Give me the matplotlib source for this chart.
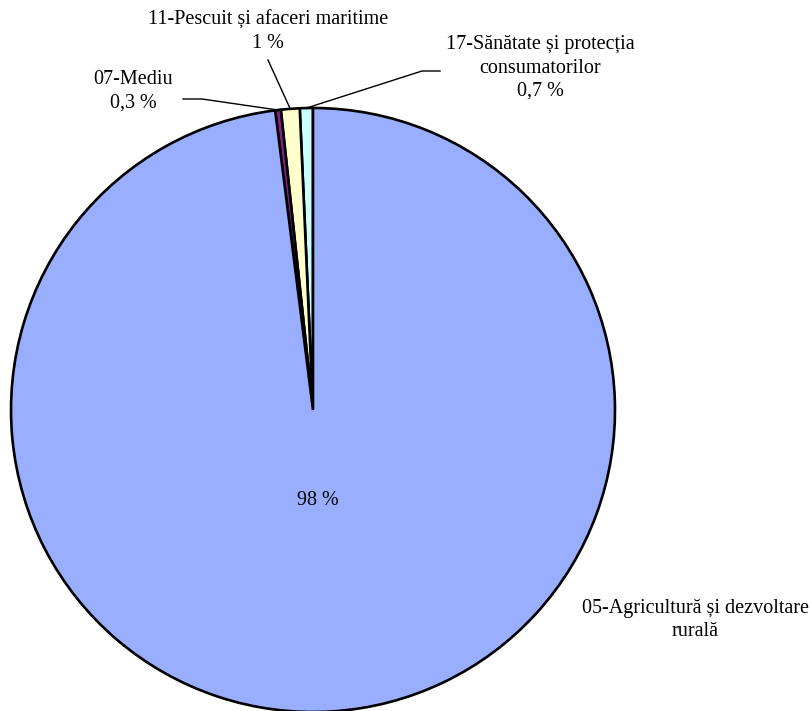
import numpy as np
import matplotlib.pyplot as plt

plt.rcParams['font.family'] = ['Liberation Serif', 'DejaVu Serif']

# shares by domain, listed counterclockwise from the top
domains = ["17-Sănătate și protecția\nconsumatorilor",
           "11-Pescuit și afaceri maritime",
           "07-Mediu",
           "05-Agricultură și dezvoltare\nrurală"]
shares = [0.7, 1, 0.3, 98]
share_labels = ["0,7 %", "1 %", "0,3 %", "98 %"]
colors = ["#ccffff", "#ffffcc", "#8b1f8b", "#9aaeff"]

fig = plt.figure(figsize=(8.11, 7.11), dpi=100)
ax = fig.add_axes([0, 0, 1, 1])

R = 302.0  # pixels per unit radius
CX, CY = 313, 410


def px(x, y):
    # pixel position -> data coords
    return (x - CX) / R, (CY - y) / R


wedges, _ = ax.pie(shares, colors=colors, startangle=90, counterclock=True,
                   radius=1, wedgeprops=dict(edgecolor="black", linewidth=1.9))

x0, y0 = px(0, 711)
x1, y1 = px(811, 0)
ax.set_xlim(x0, x1)
ax.set_ylim(y0, y1)
ax.set_aspect("auto")
ax.axis("off")

fs = 14.5

# leader line bends and text positions for the small slices (pixels)
label_pos = [(540, 68), (268, 32), (133, 91)]
line_start = [(440, 71), (268, 60), (183, 99)]
line_bend = [(422, 71), None, (202, 99)]

for i in range(3):
    w = wedges[i]
    mid = np.deg2rad((w.theta1 + w.theta2) / 2)
    ex, ey = np.cos(mid), np.sin(mid)
    pts = [px(*line_start[i])]
    if line_bend[i] is not None:
        pts.append(px(*line_bend[i]))
    pts.append((ex, ey))
    pts = np.array(pts)
    ax.plot(pts[:, 0], pts[:, 1], color="black", linewidth=1.0)
    tx, ty = px(*label_pos[i])
    ax.text(tx, ty, domains[i] + "\n" + share_labels[i], ha="center", va="center",
            multialignment="center", fontsize=fs, linespacing=1.3)

# big slice: value inside, name outside
tx, ty = px(318, 500)
ax.text(tx, ty, share_labels[3], ha="center", va="center", fontsize=fs)
tx, ty = px(695, 620)
ax.text(tx, ty, domains[3], ha="center", va="center",
        multialignment="center", fontsize=fs, linespacing=1.3)

plt.savefig("out.png", dpi=100)
